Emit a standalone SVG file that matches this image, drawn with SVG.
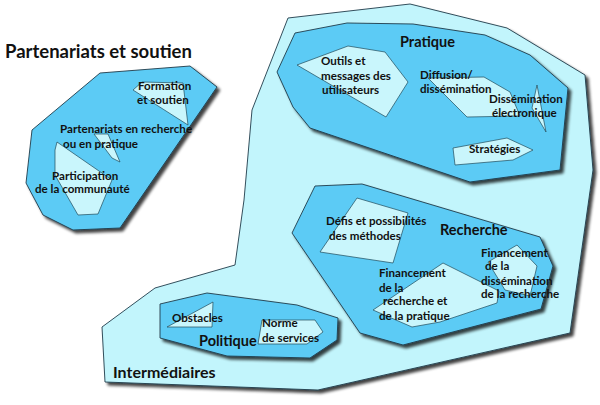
<svg xmlns="http://www.w3.org/2000/svg" width="600" height="405" viewBox="0 0 600 405">
<defs>
<filter id="sh" x="-10%" y="-10%" width="130%" height="130%">
<feGaussianBlur in="SourceAlpha" stdDeviation="1.8"/>
<feOffset dx="3" dy="3" result="b"/>
<feComponentTransfer><feFuncA type="linear" slope="0.75"/></feComponentTransfer>
<feMerge><feMergeNode/><feMergeNode in="SourceGraphic"/></feMerge>
</filter>
</defs>
<style>
.lt{fill:#c2f5fc;stroke:#1f3b4a;stroke-width:0.9;stroke-linejoin:round}
.md{fill:#5ccbf5;stroke:#1f3b4a;stroke-width:0.9;stroke-linejoin:round}
.in{fill:#c9f6fc;stroke:#1f4a5a;stroke-width:0.7;stroke-linejoin:round}
text{font-family:Lato,"Liberation Sans",sans-serif;font-weight:bold;fill:#111}
.t{font-size:16px}
.h{font-size:18.5px}
.m{font-size:14.5px}
.s{font-size:11.6px}
</style>
<rect width="600" height="405" fill="#ffffff"/>
<g id="intermediaires">
<polygon class="lt" filter="url(#sh)" points="288,18 410,4 507,28 585,75 593,170 570,333 318,390 105,382 102,327 155,288 235,265 244,200 252,110"/>
<text class="t" x="113" y="378">Intermédiaires</text>
</g>
<g id="partenariats">
<polygon class="md" filter="url(#sh)" points="32,130 100,73 190,66 217,87 120,228 73,230 43,215 26,183"/>
<text class="h" x="5" y="58">Partenariats et soutien</text>
</g>
<g id="formation">
<polygon class="in" points="133,90 142,82 183,83 188,125"/>
<text class="s" x="138" y="90">Formation</text>
<text class="s" x="137" y="104">et soutien</text>
</g>
<g id="partenariats-recherche">
<polygon class="in" points="94,134 108,134 120,162 112,158"/>
<text class="s" x="60" y="133">Partenariats en recherche</text>
<text class="s" x="63" y="148">ou en pratique</text>
</g>
<g id="participation">
<polygon class="in" points="57,142 112,180 98,214 78,215 55,175 55,150"/>
<text class="s" x="52" y="180">Participation</text>
<text class="s" x="35" y="193">de la communauté</text>
</g>
<g id="pratique">
<polygon class="md" filter="url(#sh)" points="295,33 347,23 413,24 485,35 530,55 568,88 560,170 470,182 310,128 293,107 277,72"/>
<text class="m" x="400" y="47">Pratique</text>
</g>
<g id="outils">
<polygon class="in" points="297,65 348,46 385,52 408,82 386,117"/>
<text class="s" x="321" y="65">Outils et</text>
<text class="s" x="321" y="80">messages des</text>
<text class="s" x="322" y="94">utilisateurs</text>
</g>
<g id="diffusion">
<polygon class="in" points="428,78 484,77 510,92 520,116 467,117"/>
<text class="s" x="420" y="79">Diffusion/</text>
<text class="s" x="420" y="93">dissémination</text>
</g>
<g id="dissemination-electronique">
<polygon class="in" points="537,85 532,108 546,132"/>
<text class="s" x="489" y="103">Dissémination</text>
<text class="s" x="492" y="117">électronique</text>
</g>
<g id="strategies">
<polygon class="in" points="453,148 507,138 533,150 513,160 455,165"/>
<text class="s" x="469" y="153">Stratégies</text>
</g>
<g id="recherche">
<polygon class="md" filter="url(#sh)" points="315,186 362,184 540,237 553,266 541,309 403,345 360,333 292,233"/>
<text class="m" x="440" y="235">Recherche</text>
</g>
<g id="defis">
<polygon class="in" points="357,198 408,213 393,263 320,252"/>
<text class="s" x="326" y="225">Défis et possibilités</text>
<text class="s" x="329" y="240">des méthodes</text>
</g>
<g id="financement-recherche">
<polygon class="in" points="373,310 443,263 499,291 497,303 440,322 412,327"/>
<text class="s" x="379" y="277">Financement</text>
<text class="s" x="379" y="292">de la</text>
<text class="s" x="383" y="305">recherche et</text>
<text class="s" x="379" y="320">de la pratique</text>
</g>
<g id="financement-dissemination">
<polygon class="in" points="488,262 517,245 537,266 530,296 505,290"/>
<text class="s" x="481" y="257">Financement</text>
<text class="s" x="485" y="270">de la</text>
<text class="s" x="481" y="285">dissémination</text>
<text class="s" x="481" y="298">de la recherche</text>
</g>
<g id="politique">
<polygon class="md" filter="url(#sh)" points="160,304 207,293 297,305 338,318 337,340 310,358 227,356 160,338"/>
<text class="m" x="199" y="346">Politique</text>
</g>
<g id="obstacles">
<polygon class="in" points="167,327 213,302 212,327"/>
<text class="s" x="172" y="322">Obstacles</text>
</g>
<g id="norme">
<polygon class="in" points="262,320 315,320 323,332 307,344 258,344"/>
<text class="s" x="262" y="327">Norme</text>
<text class="s" x="262" y="342">de services</text>
</g>
<g id="connectors"></g>
</svg>
